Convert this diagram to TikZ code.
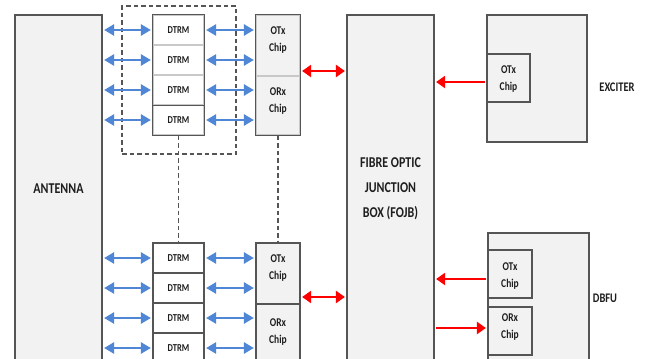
\documentclass[tikz,border=0pt]{standalone}
\usepackage{fontspec}
\usepackage{graphicx}
\setmainfont{Carlito}
\usetikzlibrary{arrows.meta}
\definecolor{bordc}{HTML}{555555}
\definecolor{lightdiv}{HTML}{C8C8C8}
\definecolor{boxfill}{HTML}{F2F2F2}
\definecolor{txtc}{HTML}{1E1E1E}
\definecolor{bluec}{HTML}{4F86D6}
\definecolor{redc}{HTML}{FF0000}
\newcommand{\tl}[1]{\scalebox{1}[1.25]{#1}}
\begin{document}
\begin{tikzpicture}[x=1pt,y=-1pt,
  bigbox/.style={draw=bordc, fill=boxfill, line width=1.2pt, inner sep=0pt, text=txtc},
  dtrm/.style={draw=bordc, fill=white, line width=1.2pt, inner sep=0pt, minimum width=51pt, minimum height=30pt, text=txtc, font=\fontsize{8.5}{10}\selectfont\bfseries},
  chipbox/.style={draw=bordc, fill=boxfill, line width=1.2pt, inner sep=0pt},
  chiptxt/.style={text=txtc, align=center, inner sep=0pt, font=\fontsize{9.5}{17}\selectfont\bfseries},
  lbl/.style={text=txtc, inner sep=0pt, font=\fontsize{10.5}{12}\selectfont\bfseries},
  frame/.style={draw=bordc, line width=1.2pt},
  dashbox/.style={draw=bordc, line width=1.2pt, dash pattern=on 4.5pt off 3pt},
  bluearr/.style={draw=bluec, line width=2.4pt, {Triangle[length=10pt,width=11pt]}-{Triangle[length=10pt,width=11pt]}, shorten <=1.5pt, shorten >=1.5pt},
  redarr/.style={draw=redc, line width=2.6pt, -{Triangle[length=9pt,width=12pt]}, shorten <=1.5pt, shorten >=1.5pt},
  redarr2/.style={draw=redc, line width=2.6pt, {Triangle[length=9pt,width=12pt]}-{Triangle[length=9pt,width=12pt]}, shorten <=1.5pt, shorten >=1.5pt}
]
\useasboundingbox (0,0) rectangle (646,359);
\clip (0,0) rectangle (646,359);
\fill[white] (0,0) rectangle (646,359);

% Antenna
\node[bigbox, minimum width=87pt, minimum height=347pt, font=\fontsize{12}{14}\selectfont\bfseries] (ant) at (58.5,188.5) {\tl{ANTENNA}};

% dashed group box
\node[dashbox, minimum width=114pt, minimum height=148pt, inner sep=0pt] (grp) at (179,80) {};

% top DTRM column
\node[dtrm, draw=lightdiv] (t1) at (178.5,30) {\tl{DTRM}};
\node[dtrm, draw=lightdiv] (t2) at (178.5,60) {\tl{DTRM}};
\node[dtrm, draw=lightdiv] (t3) at (178.5,90) {\tl{DTRM}};
\node[dtrm, draw=lightdiv] (t4) at (178.5,120) {\tl{DTRM}};
\draw[frame] (t1.north west) rectangle (t4.south east);
\draw[frame] (t3.south west) -- (t3.south east);

% top chip
\node[chipbox, draw=lightdiv, minimum width=44pt, minimum height=61pt] (otx1) at (278,45.5) {};
\node[chipbox, draw=lightdiv, minimum width=44pt, minimum height=59pt] (orx1) at (278,105.5) {};
\draw[frame] (otx1.north west) rectangle (orx1.south east);
\node[chiptxt] (otx1t) at (278,40.5) {\tl{OTx}\\\tl{Chip}};
\node[chiptxt] (orx1t) at (278,101) {\tl{ORx}\\\tl{Chip}};

% bottom DTRM column
\node[dtrm] (b1) at (178.5,258) {\tl{DTRM}};
\node[dtrm] (b2) at (178.5,288) {\tl{DTRM}};
\node[dtrm] (b3) at (178.5,318) {\tl{DTRM}};
\node[dtrm] (b4) at (178.5,348) {\tl{DTRM}};

% bottom chip
\node[chipbox, minimum width=44pt, minimum height=61pt] (otx2) at (278,273.5) {};
\node[chipbox, minimum width=44pt, minimum height=61pt] (orx2) at (278,334.5) {};
\node[chiptxt] (otx2t) at (278,268) {\tl{OTx}\\\tl{Chip}};
\node[chiptxt] (orx2t) at (278,332) {\tl{ORx}\\\tl{Chip}};

% FOJB
\node[bigbox, minimum width=87pt, minimum height=347pt, align=center, font=\fontsize{12}{25}\selectfont\bfseries] (fojb) at (390.5,188.5) {\tl{FIBRE OPTIC}\\\tl{JUNCTION}\\\tl{BOX (FOJB)}};

% Exciter
\node[bigbox, minimum width=100pt, minimum height=127pt] (exc) at (537,78.5) {};
\node[chipbox, minimum width=43pt, minimum height=48pt] (excchip) at (508.5,78) {};
\node[chiptxt] (excchipt) at (508.5,79) {\tl{OTx}\\\tl{Chip}};
\node[lbl] (exclbl) at (617,87) {\tl{EXCITER}};

% DBFU
\node[bigbox, minimum width=101pt, minimum height=140pt] (dbfu) at (538.5,303) {};
\node[chipbox, minimum width=44pt, minimum height=48pt] (dotx) at (510,274) {};
\node[chiptxt] (dotxt) at (510,276.5) {\tl{OTx}\\\tl{Chip}};
\node[chipbox, minimum width=44pt, minimum height=48pt] (dorx) at (510,331) {};
\node[chiptxt] (dorxt) at (510,327) {\tl{ORx}\\\tl{Chip}};
\node[lbl] (dbfulbl) at (605,298) {\tl{DBFU}};

% dashed vertical links
\draw[dashbox, xshift=-0.5pt] (t4.south) -- (b1.north);
\draw[dashbox, xshift=2pt] (orx1.south) -- (otx2.north);

% blue arrows left
\foreach \n in {t1,t2,t3,t4,b1,b2,b3,b4}{
  \draw[bluearr] (ant.east |- \n.west) -- (\n.west);
}
% blue arrows right
\draw[bluearr] (t1.east) -- (t1.east -| otx1.west);
\draw[bluearr] (t2.east) -- (t2.east -| otx1.west);
\draw[bluearr] (t3.east) -- (t3.east -| orx1.west);
\draw[bluearr] (t4.east) -- (t4.east -| orx1.west);
\draw[bluearr] (b1.east) -- (b1.east -| otx2.west);
\draw[bluearr] (b2.east) -- (b2.east -| otx2.west);
\draw[bluearr] (b3.east) -- (b3.east -| orx2.west);
\draw[bluearr] (b4.east) -- (b4.east -| orx2.west);

% red arrows
\coordinate (ry1) at (0,71);
\coordinate (ry2) at (0,297);
\coordinate (ry3) at (0,82);
\coordinate (ry4) at (0,279);
\coordinate (ry5) at (0,328);
\draw[redarr2] (otx1.east |- ry1) -- (fojb.west |- ry1);
\draw[redarr2] (otx2.east |- ry2) -- (fojb.west |- ry2);
\draw[redarr] (excchip.west |- ry3) -- (fojb.east |- ry3);
\draw[redarr] (dotx.west |- ry4) -- (fojb.east |- ry4);
\draw[redarr] (fojb.east |- ry5) -- (dorx.west |- ry5);
\end{tikzpicture}
\end{document}
